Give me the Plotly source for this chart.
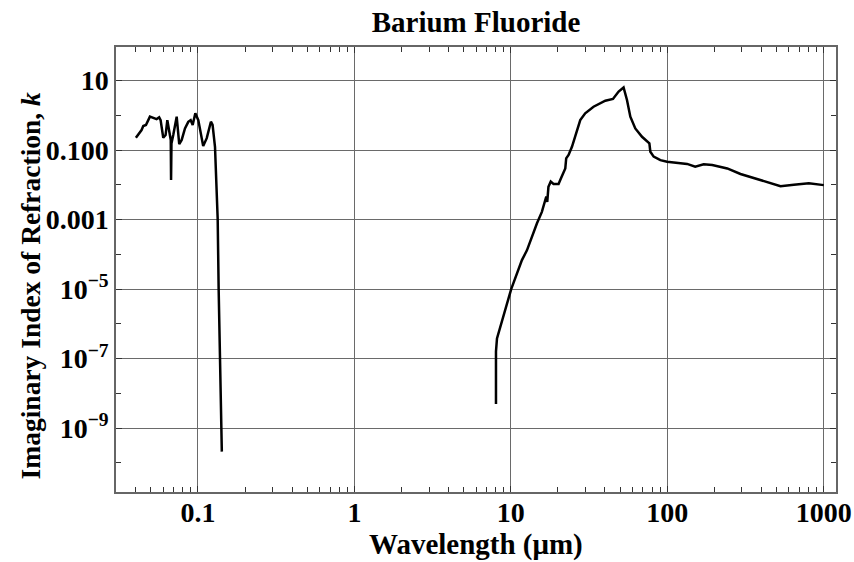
import plotly.graph_objects as go

# UV branch
uv_wavelength = [0.0401, 0.0436, 0.0447, 0.0465, 0.0493, 0.0518, 0.0544, 0.0565, 0.0577, 0.0600,
                 0.0621, 0.0637, 0.0655, 0.0670, 0.0673, 0.0677, 0.0695, 0.0713, 0.0731, 0.0759,
                 0.0787, 0.0826, 0.0867, 0.0898, 0.0925, 0.0962, 0.1005, 0.108, 0.1138, 0.121,
                 0.124, 0.1285, 0.1297, 0.1318, 0.1337, 0.1356, 0.139, 0.1406, 0.142, 0.1421]
uv_k = [0.226, 0.376, 0.490, 0.525, 0.912, 0.851, 0.776, 0.871, 0.724, 0.226,
        0.269, 0.724, 0.302, 0.195, 0.0138, 0.155, 0.269, 0.468, 0.912, 0.148,
        0.195, 0.417, 0.646, 0.724, 0.525, 1.14, 0.724, 0.130, 0.219, 0.653,
        0.525, 0.124, 0.0513, 6.3e-3, 1.02e-3, 1.0e-5, 1.0e-7, 1.0e-8, 1.0e-9, 2.1e-10]

# IR branch
ir_wavelength = [8.04, 8.04, 8.16, 8.98, 10.06, 11.78, 12.68, 14.7, 15.8, 16.86,
                 17.1, 17.4, 18.0, 18.75, 20.2, 20.9, 22.3, 22.6, 23.4, 24.6,
                 26.2, 27.8, 29.9, 33.8, 40.2, 45.0, 48.9, 52.6, 55.3, 58.1,
                 62.5, 69.0, 76.9, 78.0, 81.9, 90.4, 99.8, 115.6, 134, 151,
                 171, 194, 242, 294, 376, 446, 530, 645, 804, 1002]
ir_k = [4.9e-9, 1.6e-7, 3.8e-7, 1.6e-6, 1.0e-5, 6.8e-5, 1.3e-4, 7.8e-4, 1.66e-3, 4.6e-3,
        3.2e-3, 8.7e-3, 0.0123, 0.0105, 0.0105, 0.0151, 0.0295, 0.0575, 0.0724, 0.124,
        0.339, 0.729, 1.14, 1.76, 2.63, 2.94, 4.79, 6.31, 2.75, 0.912,
        0.417, 0.240, 0.155, 0.0891, 0.0646, 0.0513, 0.0457, 0.0417, 0.0398, 0.0331,
        0.0389, 0.0372, 0.0295, 0.0204, 0.0145, 0.0120, 0.00912, 0.0100, 0.0110, 0.00977]

x_tickvals = [0.1, 1, 10, 100, 1000]
x_ticktext = ["0.1", "1", "10", "100", "1000"]
x_minor = [m * 10 ** e for e in range(-2, 3) for m in range(2, 10)]
y_tickvals = [10, 0.1, 1e-3, 1e-5, 1e-7, 1e-9]
y_ticktext = ["10", "0.100", "0.001", "10<sup>−5</sup>", "10<sup>−7</sup>", "10<sup>−9</sup>"]
y_minor = [1, 1e-2, 1e-4, 1e-6, 1e-8, 1e-10]

FONT = "Liberation Serif, Times New Roman, serif"

fig = go.Figure()
fig.add_trace(go.Scatter(x=uv_wavelength, y=uv_k, mode="lines",
                         line=dict(color="black", width=2.5), showlegend=False))
fig.add_trace(go.Scatter(x=ir_wavelength, y=ir_k, mode="lines",
                         line=dict(color="black", width=2.5), showlegend=False))

axis_common = dict(
    type="log", showline=True, linecolor="#666", linewidth=1.5, mirror="ticks",
    ticks="inside", ticklen=6, tickcolor="#333", tickwidth=1,
    showgrid=True, gridcolor="#6a6a6a", gridwidth=1, zeroline=False, automargin=False,
    tickfont=dict(family=FONT, size=28, color="black", weight="bold"),
)

fig.update_xaxes(**axis_common, range=[-1.524, 3.079], tickmode="array",
                 tickvals=x_tickvals, ticktext=x_ticktext, ticklabelstandoff=-5,
                 minor=dict(tickmode="array", tickvals=x_minor, ticks="inside",
                            ticklen=5, tickcolor="#333", showgrid=False))
fig.update_yaxes(**axis_common, range=[-10.84, 1.964], tickmode="array",
                 tickvals=y_tickvals, ticktext=y_ticktext,
                 minor=dict(tickmode="array", tickvals=y_minor, ticks="inside",
                            ticklen=5, tickcolor="#333", showgrid=False))

fig.add_annotation(text="Wavelength (μm)",
                   xref="paper", yref="paper", x=0.5, y=-0.119,
                   xanchor="center", yanchor="middle", showarrow=False,
                   font=dict(family=FONT, size=29, color="black", weight="bold"))
fig.add_annotation(text="Imaginary Index of Refraction, <i>k</i>", textangle=-90,
                   xref="paper", yref="paper", x=-0.119, y=0.465,
                   xanchor="center", yanchor="middle", showarrow=False,
                   font=dict(family=FONT, size=27.5, color="black", weight="bold"))

fig.update_layout(
    width=854, height=562,
    margin=dict(l=116, r=18, t=47, b=70),
    plot_bgcolor="white", paper_bgcolor="white",
    title=dict(text="Barium Fluoride", x=0.5, xref="paper", y=0.962, yanchor="middle",
               font=dict(family=FONT, size=29, color="black", weight="bold")),
)

fig.write_html("out.html")
